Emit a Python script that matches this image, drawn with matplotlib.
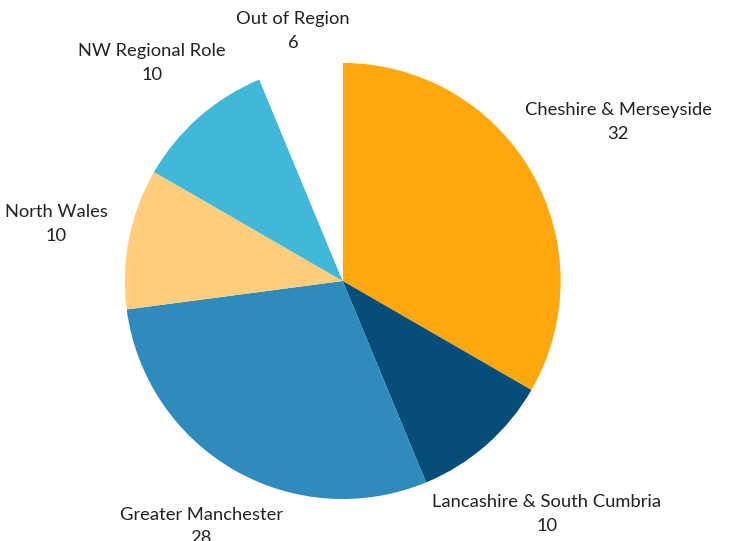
import numpy as np
import matplotlib
matplotlib.use("Agg")
import matplotlib.pyplot as plt

plt.rcParams['font.family'] = ['Lato', 'DejaVu Sans']

regions = ['Cheshire & Merseyside', 'Lancashire & South Cumbria', 'Greater Manchester',
           'North Wales', 'NW Regional Role', 'Out of Region']
counts = [32, 10, 28, 10, 10, 6]
colors = ['#FFA80D', '#074D79', '#2E8BBB', '#FFCD7B', '#42B8D8', '#FFFFFF']
# label distance from centre, in pie radii
label_dist = [1.46, 1.42, 1.30, 1.34, 1.33, 1.17]

fig = plt.figure(figsize=(7.3, 5.41), dpi=100)
ax = fig.add_axes([0.171, 0.0776, 0.597, 0.806])
wedges, _ = ax.pie(counts, colors=colors, startangle=90, counterclock=False,
                   radius=1.0, wedgeprops=dict(linewidth=0))
ax.set_xlim(-1, 1)
ax.set_ylim(-1, 1)
ax.set_aspect('auto')
ax.axis('off')

for w, name, n, d in zip(wedges, regions, counts, label_dist):
    ang = np.deg2rad((w.theta1 + w.theta2) / 2)
    x, y = d * np.cos(ang), d * np.sin(ang)
    ax.text(x, y, f"{name}\n{n}", ha='center', va='center', fontsize=13.2,
            color='#222222', linespacing=1.6, clip_on=False)

fig.savefig('out.png', dpi=100)
